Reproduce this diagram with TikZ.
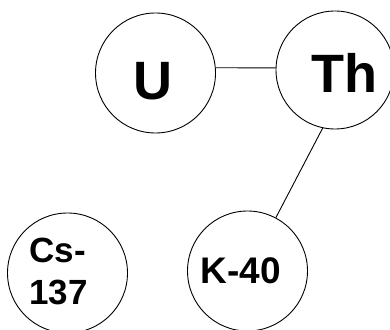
\documentclass[tikz,border=0pt]{standalone}
\usepackage{fontspec}
\setmainfont{Liberation Sans}
\begin{document}
\begin{tikzpicture}[x=1pt,y=1pt,
  atom/.style={draw=black, line width=0.9pt, circle, inner sep=0pt, minimum size=#1},
  atom/.default=120pt,
  bigtxt/.style={font=\fontsize{54}{60}\selectfont\bfseries, inner sep=0pt},
  midtxt/.style={font=\fontsize{37}{42}\selectfont\bfseries, inner sep=0pt},
  smalltxt/.style={font=\fontsize{35}{42}\selectfont\bfseries, inner sep=0pt, align=left},
  link/.style={draw=black, line width=0.9pt}]
\useasboundingbox (0,0) rectangle (390,329);
\node[atom] (U) at (155.5,256) {};
\node[atom=118pt] (Th) at (335,259) {};
\node[atom] (K) at (247.5,58) {};
\node[atom] (Cs) at (67.5,56) {};
\node[bigtxt] (Ut) at (152.5,248) {U};
\node[bigtxt] (Tht) at (344.5,256) {Th};
\node[midtxt] (Kt) at (241,58) {K-40};
\node[smalltxt] (Cst) at (58.5,57.5) {Cs-\\137};
\draw[link] (U.5) -- (Th.178);
\draw[link] (Th.258) -- (K.62);
\end{tikzpicture}
\end{document}
